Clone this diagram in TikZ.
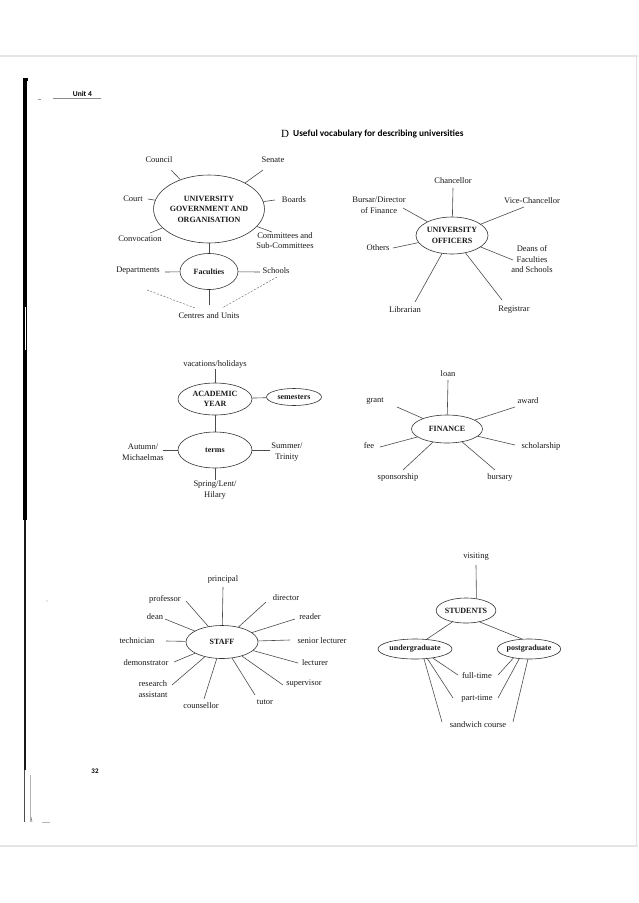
\documentclass[tikz,border=0pt]{standalone}
\usepackage{fontspec}
\setmainfont{Liberation Serif}
\newfontfamily\hdfont{Carlito}
\usetikzlibrary{shapes.geometric}
\newcommand\lblsize{\fontsize{8.5}{10.5}\selectfont}
\newcommand\hubsize{\fontsize{8}{10.5}\selectfont\bfseries}
\tikzset{
  lbl/.style={font=\lblsize, align=center, inner sep=0pt, text=black!90},
  hub/.style={draw=black!80, ellipse, line width=0.6pt, inner sep=0pt, font=\hubsize, align=center, text=black!90},
  spoke/.style={draw=black!70, line width=0.6pt},
  dashlink/.style={draw=black!60, line width=0.45pt, dash pattern=on 2pt off 1.5pt},
  pageline/.style={draw=black!10, line width=1.5pt}
}
\begin{document}
\begin{tikzpicture}[x=1pt,y=-1pt]
\useasboundingbox (0,0) rectangle (638,903);
\fill[white] (0,0) rectangle (638,903);
% page frame
\draw[pageline] (0,56) -- (638,56);
\draw[draw=black!12, line width=0.8pt] (636.5,56) -- (636.5,846);
\draw[pageline] (0,846) -- (638,846);
% left bar
\fill[black] (22.5,78) rectangle (27.5,81);
\fill[black] (23,79) rectangle (27,520);
\draw[white, line width=0.8pt] (25,307) -- (25,350);
\fill[black!90] (24,520) rectangle (26.2,770);
\draw[black!70, line width=0.6pt] (24.5,770) -- (24.5,822);
\draw[black!30, line width=0.5pt] (30,775) -- (30,822);
\draw[black!50, line width=0.6pt] (31,817) -- (32,822);
\draw[black!30, line width=0.5pt] (42,822) -- (50,822);
\draw[black!40, line width=0.6pt] (38,99) -- (41,99);
\fill[black!40] (47,601) circle (0.6);
% header
\node[font=\hdfont\bfseries\fontsize{7.5}{8}\selectfont, anchor=east, inner sep=0pt] (unit) at (92,94) {Unit 4};
\draw[black!45, line width=0.9pt] (53,98.5) -- (101,98.5);
\node[font=\fontsize{11}{12}\selectfont, inner sep=0pt] (dlet) at (285,133.5) {D};
\node[font=\hdfont\bfseries\fontsize{9.3}{10}\selectfont, anchor=west, inner sep=0pt] (title) at (293,134.5) {Useful vocabulary for describing universities};
\node[font=\hdfont\bfseries\fontsize{7}{8}\selectfont, inner sep=0pt] (pnum) at (95,771) {32};

% ===== University government =====
\node[hub, minimum width=98pt, minimum height=68pt] (gov) at (209,209) {UNIVERSITY\\GOVERNMENT AND\\ORGANISATION};
\node[hub, minimum width=58pt, minimum height=36pt] (fac) at (209,271.5) {Faculties};
\node[lbl] (council) at (159,160) {Council};
\node[lbl] (senate) at (273,160) {Senate};
\node[lbl] (court) at (133,198.5) {Court};
\node[lbl] (boards) at (294,199.5) {Boards};
\node[lbl] (convoc) at (140,239) {Convocation};
\node[lbl] (commit) at (285,240.5) {Committees and\\Sub-Committees};
\node[lbl] (depts) at (138,271) {Departments};
\node[lbl] (schools) at (276,271) {Schools};
\node[lbl] (centres) at (209,316) {Centres and Units};
\coordinate (cCouncil) at (171,170);
\coordinate (cSenate) at (263,170);
\coordinate (cCourt) at (148,199);
\coordinate (cBoards) at (275,200);
\coordinate (cConvoc) at (150,233);
\coordinate (cCommit) at (272,232);
\coordinate (cDepts) at (165,272);
\coordinate (cSchools) at (260,272);
\coordinate (cCentres) at (209,305);
\foreach \c in {cCouncil,cSenate,cCourt,cBoards,cConvoc,cCommit} \draw[spoke] (\c) -- (gov);
\draw[spoke] (gov) -- (fac);
\foreach \c in {cDepts,cSchools,cCentres} \draw[spoke] (\c) -- (fac);
\coordinate (dA1) at (147,290); \coordinate (dA2) at (195,308);
\coordinate (dB1) at (277,277); \coordinate (dB2) at (222,308);
\draw[dashlink] (dA1) -- (dA2);
\draw[dashlink] (dB1) -- (dB2);

% ===== University officers =====
\node[hub, minimum width=72pt, minimum height=37pt] (off) at (452,235.5) {UNIVERSITY\\OFFICERS};
\node[lbl] (chanc) at (453,181) {Chancellor};
\node[lbl] (bursar) at (379,205) {Bursar/Director\\of Finance};
\node[lbl] (vice) at (532,201) {Vice-Chancellor};
\node[lbl] (others) at (378,248) {Others};
\node[lbl] (deans) at (532,259.5) {Deans of\\Faculties\\and Schools};
\node[lbl] (libr) at (405,310) {Librarian};
\node[lbl] (regis) at (514,310) {Registrar};
\coordinate (cChanc) at (453,188);
\coordinate (cBursar) at (403,208);
\coordinate (cVice) at (524,207);
\coordinate (cOthers) at (393,248);
\coordinate (cDeans) at (513,260);
\coordinate (cLibr) at (415,302);
\coordinate (cRegis) at (502,300);
\foreach \c in {cChanc,cBursar,cVice,cOthers,cDeans,cLibr,cRegis} \draw[spoke] (\c) -- (off);

% ===== Academic year =====
\node[hub, minimum width=74pt, minimum height=32pt] (ay) at (215,399) {ACADEMIC\\YEAR};
\node[hub, minimum width=55pt, minimum height=17pt] (sem) at (294,397) {semesters};
\node[hub, minimum width=74pt, minimum height=36pt] (terms) at (215,450) {terms};
\node[lbl] (vac) at (215,364) {vacations/holidays};
\node[lbl] (autumn) at (143,452) {Autumn/\\Michaelmas};
\node[lbl] (summer) at (287,452) {Summer/\\Trinity};
\node[lbl] (spring) at (215,490) {Spring/Lent/\\Hilary};
\coordinate (cVac) at (215,369);
\coordinate (cAutumn) at (163,450);
\coordinate (cSummer) at (270,450);
\coordinate (cSpring) at (215,480);
\draw[spoke] (cVac) -- (ay);
\draw[spoke] (ay) -- (sem);
\draw[spoke] (ay) -- (terms);
\foreach \c in {cAutumn,cSummer,cSpring} \draw[spoke] (\c) -- (terms);

% ===== Finance =====
\node[hub, minimum width=71pt, minimum height=28pt] (fin) at (447,429) {FINANCE};
\node[lbl] (loan) at (448,374) {loan};
\node[lbl] (grant) at (375,401) {grant};
\node[lbl] (award) at (528,401) {award};
\node[lbl] (fee) at (369,446) {fee};
\node[lbl] (schol) at (541,446) {scholarship};
\node[lbl] (spons) at (398,477.5) {sponsorship};
\node[lbl] (bursary) at (500,477.5) {bursary};
\coordinate (cLoan) at (448,380);
\coordinate (cGrant) at (397,407);
\coordinate (cAward) at (515,407);
\coordinate (cFee) at (380,447);
\coordinate (cSchol) at (515,445);
\coordinate (cSpons) at (403,470);
\coordinate (cBursary) at (495,470);
\foreach \c in {cLoan,cGrant,cAward,cFee,cSchol,cSpons,cBursary} \draw[spoke] (\c) -- (fin);

% ===== Staff =====
\node[hub, minimum width=72pt, minimum height=33pt] (staff) at (222,642) {STAFF};
\node[lbl] (princ) at (223,579) {principal};
\node[lbl] (prof) at (165,599) {professor};
\node[lbl] (direc) at (286,598) {director};
\node[lbl] (dean) at (155,617) {dean};
\node[lbl] (reader) at (310,617) {reader};
\node[lbl] (tech) at (137,641) {technician};
\node[lbl] (senior) at (322,641) {senior lecturer};
\node[lbl] (demon) at (146,663) {demonstrator};
\node[lbl] (lect) at (315,663) {lecturer};
\node[lbl] (resass) at (153,689) {research\\assistant};
\node[lbl] (superv) at (304,684) {supervisor};
\node[lbl] (couns) at (201,706) {counsellor};
\node[lbl] (tutor) at (265,702) {tutor};
\coordinate (cPrinc) at (223,587);
\coordinate (cProf) at (186,601);
\coordinate (cDirec) at (266,602);
\coordinate (cDean) at (165,619);
\coordinate (cReader) at (295,619);
\coordinate (cTech) at (166,641);
\coordinate (cSenior) at (290,640);
\coordinate (cDemon) at (174,662);
\coordinate (cLect) at (298,663);
\coordinate (cResass) at (172,685);
\coordinate (cSuperv) at (283,685);
\coordinate (cCouns) at (204,699);
\coordinate (cTutor) at (255,695);
\foreach \c in {cPrinc,cProf,cDirec,cDean,cReader,cTech,cSenior,cDemon,cLect,cResass,cSuperv,cCouns,cTutor} \draw[spoke] (\c) -- (staff);

% ===== Students =====
\node[hub, minimum width=55pt, minimum height=25pt] (stu) at (466,610.5) {STUDENTS};
\node[hub, minimum width=74pt, minimum height=20pt] (ug) at (415,649) {undergraduate};
\node[hub, minimum width=54pt, minimum height=20pt] (pg) at (529,649) {postgraduate};
\node[lbl] (visit) at (476,557) {visiting};
\node[lbl] (full) at (477,676) {full-time};
\node[lbl] (part) at (477,699) {part-time};
\node[lbl] (sandw) at (478,725) {sandwich course};
\coordinate (cVisit) at (476,565);
\coordinate (cFullL) at (458,675);
\coordinate (cPartL) at (453,698);
\coordinate (cSandL) at (442,722);
\coordinate (cFullR) at (498,675);
\coordinate (cPartR) at (498,698);
\coordinate (cSandR) at (513,722);
\draw[spoke] (cVisit) -- (stu.49);
\draw[spoke] (stu.-140) -- (ug.40);
\draw[spoke] (stu.-40) -- (pg.125);
\draw[spoke] (ug.-27) -- (cFullL);
\draw[spoke] (ug.-38) -- (cPartL);
\draw[spoke] (ug.-48) -- (cSandL);
\draw[spoke] (pg.-150) -- (cFullR);
\draw[spoke] (pg.-135) -- (cPartR);
\draw[spoke] (pg.-96) -- (cSandR);
\end{tikzpicture}
\end{document}
